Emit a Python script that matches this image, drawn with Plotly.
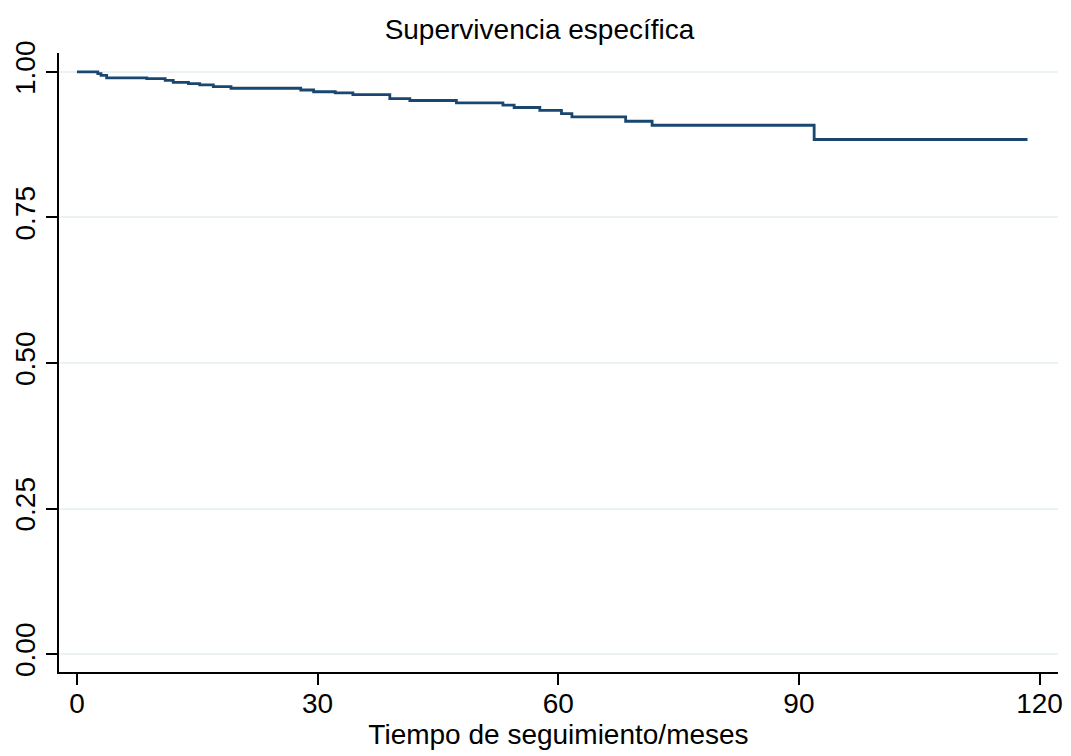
import plotly.graph_objects as go

# Kaplan-Meier step estimates
months = [0, 2.6, 3.0, 3.7, 8.7, 11.0, 12.0, 13.9, 15.3, 17.0, 19.2, 27.9, 29.5,
          32.2, 34.4, 39.0, 41.5, 47.3, 53.1, 54.5, 57.7, 60.4, 61.7, 68.4, 71.7,
          91.9, 118.5]
survival = [1.0, 0.997, 0.994, 0.990, 0.9886, 0.9857, 0.982, 0.980, 0.978, 0.975,
            0.972, 0.969, 0.966, 0.964, 0.961, 0.9543, 0.951, 0.947, 0.943, 0.939,
            0.934, 0.9286, 0.9227, 0.9153, 0.9085, 0.884, 0.884]

x_ticks = [0, 30, 60, 90, 120]
y_ticks = [0, 0.25, 0.5, 0.75, 1.0]
y_tick_labels = ["0.00", "0.25", "0.50", "0.75", "1.00"]

title_text = "Supervivencia específica"
x_title = "Tiempo de seguimiento/meses"

FONT = "Liberation Sans, Arial, sans-serif"
OFF = 8  # default page body margin
W, H = 1071 - OFF, 756 - OFF

fig = go.Figure()
fig.add_trace(go.Scatter(
    x=months, y=survival, mode="lines", line_shape="hv",
    line=dict(color="#1a476f", width=2.8), showlegend=False, hoverinfo="skip"))

fig.update_layout(
    width=W, height=H,
    paper_bgcolor="white", plot_bgcolor="white",
    margin=dict(l=59 - OFF, r=13, t=53 - OFF, b=84, autoexpand=False),
    font=dict(family=FONT, color="black", size=27),
    title=dict(text=title_text, x=0.5, xanchor="center", xref="container",
               y=1 - (29 - OFF) / H, yref="container", yanchor="middle",
               font=dict(family=FONT, size=28, color="black")),
)
fig.update_xaxes(
    range=[-2.24, 122.3], tickvals=x_ticks, ticktext=[str(v) for v in x_ticks],
    showgrid=False, zeroline=False, showline=True, linecolor="black", linewidth=1.5,
    ticks="outside", ticklen=11, tickwidth=1.5, tickcolor="black",
    tickfont=dict(family=FONT, size=28), automargin=False, ticklabelstandoff=-5,
    title=dict(text=x_title, font=dict(family=FONT, size=28), standoff=0),
)
fig.update_yaxes(
    range=[-0.0309, 1.0326], tickvals=y_ticks, ticktext=y_tick_labels,
    showgrid=True, gridcolor="#eaf2f3", gridwidth=1.5, zeroline=False,
    showline=True, linecolor="black", linewidth=1.5,
    ticks="outside", ticklen=11, tickwidth=1.5, tickcolor="black",
    tickangle=-90, tickfont=dict(family=FONT, size=28), automargin=False,
)

fig.write_html("out.html")
